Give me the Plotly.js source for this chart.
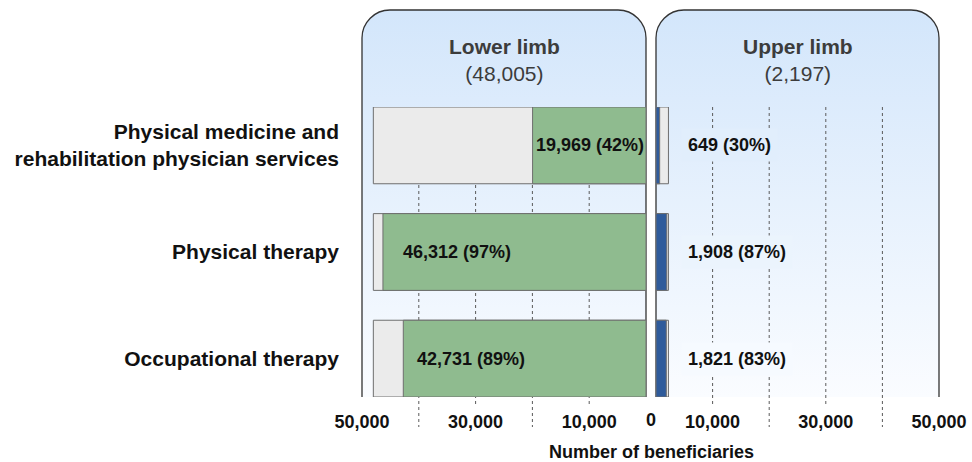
<!DOCTYPE html>
<html><head><meta charset="utf-8">
<script src="https://cdn.plot.ly/plotly-3.0.1.min.js"></script>
<style>html,body{margin:0;padding:0;background:#fff}#chart{width:972px;height:462px}</style>
</head><body><div id="chart"></div>
<script>
// ---- data ----
const categories = ['Physical medicine and rehabilitation physician services', 'Physical therapy', 'Occupational therapy'];
const categoryLabels = ['Physical medicine and<br>rehabilitation physician services', 'Physical therapy', 'Occupational therapy'];
const panelNames = ['Lower limb', 'Upper limb'];
const lowerTotal = 48005;
const upperTotal = 2197;
const lowerValues = [19969, 46312, 42731];
const lowerPct = [42, 97, 89];
const upperValues = [649, 1908, 1821];
const upperPct = [30, 87, 83];
const lowerTicks = [50000, 30000, 10000];
const upperTicks = [10000, 30000, 50000];
const gridValues = [10000, 20000, 30000, 40000];
const axisTitle = 'Number of beneficiaries';

// ---- helpers ----
const W = 972, H = 462;
const px = p => p / W;
const py = p => 1 - p / H;
const fmt = v => v.toLocaleString('en-US');
const FONT = '"Liberation Sans", Arial, sans-serif';

const panelTop = 10, panelBottom = 397, radius = 28;
const leftX0 = 362, leftX1 = 646, rightX0 = 656, rightX1 = 939;
const gradTop = [211, 230, 251], gradBot = [250, 252, 255];
function gradAt(y) {
  const f = Math.max(0, Math.min(1, (y - panelTop) / (panelBottom - panelTop)));
  const c = gradTop.map((t, i) => Math.round(t + (gradBot[i] - t) * f));
  return `rgb(${c[0]},${c[1]},${c[2]})`;
}
function panelPath(x0, x1) {
  return `M${x0},${panelBottom} L${x0},${panelTop + radius} A${radius},${radius} 0 0 1 ${x0 + radius},${panelTop} ` +
         `L${x1 - radius},${panelTop} A${radius},${radius} 0 0 1 ${x1},${panelTop + radius} L${x1},${panelBottom}`;
}
const svg = `<svg xmlns="http://www.w3.org/2000/svg" width="${W}" height="${H}" viewBox="0 0 ${W} ${H}">` +
  `<defs><linearGradient id="g" gradientUnits="userSpaceOnUse" x1="0" y1="${panelTop}" x2="0" y2="${panelBottom}">` +
  `<stop offset="0" stop-color="rgb(${gradTop})"/><stop offset="1" stop-color="rgb(${gradBot})"/></linearGradient></defs>` +
  `<path d="${panelPath(leftX0, leftX1)}" fill="url(#g)" stroke="#333" stroke-width="1.3"/>` +
  `<path d="${panelPath(rightX0, rightX1)}" fill="url(#g)" stroke="#333" stroke-width="1.3"/></svg>`;
const bgSrc = 'data:image/svg+xml;base64,' + btoa(svg);

const barLine = {color: '#6e6e6e', width: 1};
const barWidth = 0.72;
const grey = '#ebebeb', green = '#8fbb8f', blue = '#2f5b9b';

const traces = [
  {type: 'bar', orientation: 'h', y: categories, x: categories.map(() => lowerTotal), xaxis: 'x', yaxis: 'y',
   marker: {color: grey, line: barLine}, width: barWidth, hoverinfo: 'skip'},
  {type: 'bar', orientation: 'h', y: categories, x: lowerValues, xaxis: 'x', yaxis: 'y',
   marker: {color: green, line: barLine}, width: barWidth, hoverinfo: 'skip'},
  {type: 'bar', orientation: 'h', y: categories, x: categories.map(() => upperTotal), xaxis: 'x2', yaxis: 'y',
   marker: {color: grey, line: barLine}, width: barWidth, hoverinfo: 'skip'},
  {type: 'bar', orientation: 'h', y: categories, x: upperValues, xaxis: 'x2', yaxis: 'y',
   marker: {color: blue, line: barLine}, width: barWidth, hoverinfo: 'skip'}
];

// gridlines (dotted), labelled ticks stop above labels
const shapes = [];
[['x', lowerTicks], ['x2', upperTicks]].forEach(([ax, ticks]) => {
  gridValues.forEach(v => {
    shapes.push({type: 'line', xref: ax, yref: 'paper', x0: v, x1: v, y0: py(107), y1: py(ticks.includes(v) ? 405 : 427),
      line: {color: '#5a5a5a', width: 1, dash: 'dot'}, layer: 'below'});
  });
});

const rowY = [145, 251.5, 358.5];
const lowerAnchor = ['right', 'left', 'left'];
const lowerShift = [-1, 19, 13];
const annotations = [];
annotations.push({xref: 'paper', yref: 'paper', x: px((leftX0 + leftX1) / 2), y: py(59.5), xanchor: 'center', yanchor: 'middle',
  text: `<b>${panelNames[0]}</b><br>(${fmt(lowerTotal)})`, showarrow: false, font: {family: FONT, size: 21, color: '#3c3c3c'}});
annotations.push({xref: 'paper', yref: 'paper', x: px((rightX0 + rightX1) / 2), y: py(59.5), xanchor: 'center', yanchor: 'middle',
  text: `<b>${panelNames[1]}</b><br>(${fmt(upperTotal)})`, showarrow: false, font: {family: FONT, size: 21, color: '#3c3c3c'}});
categories.forEach((c, i) => {
  annotations.push({xref: 'x', yref: 'y', x: lowerAnchor[i] === 'right' ? 0 : lowerValues[i], y: c,
    xanchor: lowerAnchor[i], yanchor: 'middle', xshift: lowerShift[i], showarrow: false, borderpad: 0,
    text: `<b>${fmt(lowerValues[i])} (${lowerPct[i]}%)</b>`, font: {family: FONT, size: 18, color: '#111'}});
  annotations.push({xref: 'x2', yref: 'y', x: 0, y: c, xanchor: 'left', yanchor: 'middle', xshift: 25, showarrow: false,
    borderpad: 6, bgcolor: gradAt(rowY[i]),
    text: `<b>${fmt(upperValues[i])} (${upperPct[i]}%)</b>`, font: {family: FONT, size: 18, color: '#111'}});
});
annotations.push({xref: 'paper', yref: 'paper', x: px(651), y: py(420), xanchor: 'center', yanchor: 'middle', showarrow: false,
  text: '<b>0</b>', font: {family: FONT, size: 18, color: '#111'}});
annotations.push({xref: 'paper', yref: 'paper', x: px(651), y: py(452), xanchor: 'center', yanchor: 'middle', showarrow: false,
  text: `<b>${axisTitle}</b>`, font: {family: FONT, size: 18, color: '#111'}});

const xCommon = {showgrid: false, zeroline: false, showline: false, ticks: '', automargin: false, fixedrange: true,
  tickfont: {family: FONT, size: 18, color: '#111', weight: 'bold'}, ticklabelstandoff: 12, anchor: 'y'};

const layout = {
  width: W, height: H, margin: {l: 0, r: 0, t: 0, b: 0}, showlegend: false, barmode: 'overlay',
  paper_bgcolor: '#fff', plot_bgcolor: 'rgba(0,0,0,0)', font: {family: FONT},
  xaxis: Object.assign({}, xCommon, {domain: [px(leftX0), px(leftX1)], range: [50000, 0],
    tickmode: 'array', tickvals: lowerTicks, ticktext: lowerTicks.map(fmt)}),
  xaxis2: Object.assign({}, xCommon, {domain: [px(rightX0), px(rightX1)], range: [0, 50000],
    tickmode: 'array', tickvals: upperTicks, ticktext: upperTicks.map(fmt)}),
  yaxis: {domain: [py(397), py(107)], type: 'category', range: [2.36, -0.36], anchor: 'x', showgrid: false, zeroline: false,
    showline: false, ticks: '', automargin: false, fixedrange: true, tickmode: 'array', tickvals: categories, ticktext: categoryLabels,
    tickfont: {family: FONT, size: 21, color: '#111', weight: 'bold'}, ticklabelstandoff: 22},
  shapes: shapes,
  annotations: annotations,
  images: [{source: bgSrc, xref: 'paper', yref: 'paper', x: 0, y: 1, sizex: 1, sizey: 1, xanchor: 'left', yanchor: 'top',
    sizing: 'stretch', layer: 'below'}]
};

Plotly.newPlot('chart', traces, layout, {displayModeBar: false, staticPlot: true});
</script></body></html>
